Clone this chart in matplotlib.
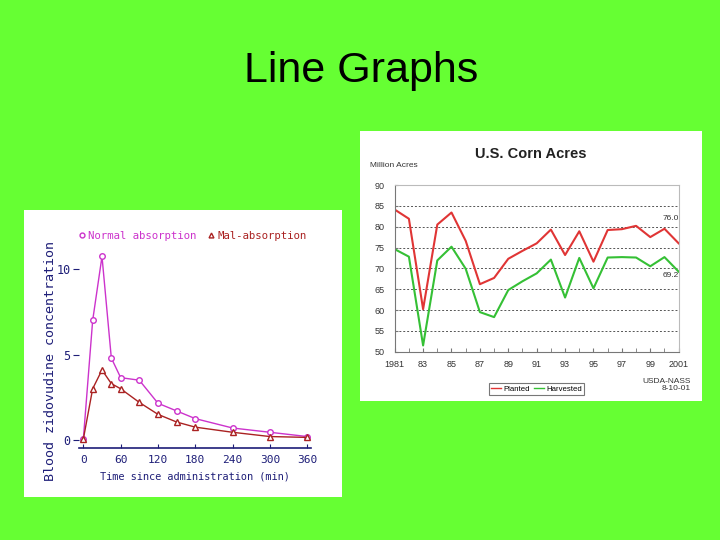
import numpy as np
import matplotlib
matplotlib.use('Agg')
import matplotlib.pyplot as plt
from matplotlib.lines import Line2D
from matplotlib.patches import Rectangle

# left chart: zidovudine concentration
minutes = [0, 15, 30, 45, 60, 90, 120, 150, 180, 240, 300, 360]
normal = [0.05, 7.0, 10.75, 4.8, 3.65, 3.5, 2.15, 1.7, 1.25, 0.7, 0.45, 0.2]
mal = [0.05, 3.0, 4.1, 3.3, 3.0, 2.2, 1.5, 1.05, 0.75, 0.45, 0.2, 0.15]

# right chart: U.S. corn acres
years = list(range(1981, 2002))
planted = [84.1, 81.9, 60.2, 80.5, 83.4, 76.6, 66.2, 67.7, 72.3, 74.2, 76.0,
           79.3, 73.2, 78.9, 71.6, 79.2, 79.4, 80.2, 77.5, 79.5, 76.0]
harvested = [74.6, 72.8, 51.5, 71.9, 75.2, 69.9, 59.5, 58.3, 64.8, 66.9, 68.8,
             72.1, 63.0, 72.5, 65.2, 72.6, 72.7, 72.6, 70.5, 72.7, 69.2]
year_labels = ['1981', '83', '85', '87', '89', '91', '93', '95', '97', '99', '2001']

fig = plt.figure(figsize=(7.2, 5.4), dpi=100)
fig.patch.set_facecolor('#66FF33')

fig.text(0.501, 0.848, 'Line Graphs', fontsize=31, family='Liberation Sans',
         ha='center', va='baseline', color='black')

# white backing panels
fig.add_artist(Rectangle((0.0333, 0.0796), 0.4417, 0.5315, transform=fig.transFigure,
                         facecolor='white', edgecolor='none', zorder=0))
fig.add_artist(Rectangle((0.5, 0.2574), 0.475, 0.5, transform=fig.transFigure,
                         facecolor='white', edgecolor='none', zorder=0))

# ---- left chart ----
navy = '#1E1E78'
mag = '#CC33CC'
dred = '#AA2222'
mono = 'DejaVu Sans Mono'

ax1 = fig.add_axes([0.1097, 0.1704, 0.3222, 0.3759])
ax1.set_facecolor('white')
ax1.plot(minutes, normal, color=mag, lw=1, marker='o', ms=4, mfc='white', mec=mag)
ax1.plot(minutes, mal, color=dred, lw=1, marker='^', ms=4, mfc='white', mec=dred)
ax1.set_xlim(-7, 366)
ax1.set_ylim(-0.47, 11.42)
ax1.set_xticks([0, 60, 120, 180, 240, 300, 360])
ax1.set_yticks([0, 5, 10])
for s in ['top', 'right', 'left']:
    ax1.spines[s].set_visible(False)
ax1.spines['bottom'].set_color(navy)
ax1.spines['bottom'].set_linewidth(1.2)
ax1.tick_params(axis='x', direction='in', length=3, color=navy, labelcolor=navy,
                labelsize=8, pad=5)
ax1.tick_params(axis='y', direction='out', length=4, color=navy, labelcolor=navy,
                labelsize=8.5, pad=2)
for lab in ax1.get_xticklabels() + ax1.get_yticklabels():
    lab.set_family(mono)
ax1.set_xlabel('Time since administration (min)', family=mono, fontsize=7.4,
               color=navy, labelpad=5)
fig.text(0.0705, 0.331, 'Blood zidovudine concentration', family=mono, fontsize=9.6,
         color=navy, rotation=90, ha='center', va='center')

h1 = Line2D([], [], ls='none', marker='o', ms=3.5, mfc='white', mec=mag)
h2 = Line2D([], [], ls='none', marker='^', ms=3.5, mfc='white', mec=dred)
leg1 = ax1.legend([h1, h2], ['Normal absorption', 'Mal-absorption'], ncol=2,
                  loc='center', bbox_to_anchor=(0.49, 1.045), frameon=False,
                  prop={'family': mono, 'size': 7.7}, handlelength=0.6,
                  handletextpad=0.3, columnspacing=1.0, labelcolor=[mag, dred])

# ---- right chart ----
red = '#E03535'
green = '#35C035'
arial = 'Liberation Sans'

ax2 = fig.add_axes([0.5482, 0.3487, 0.3944, 0.3087])
ax2.set_facecolor('white')
ax2.plot(years, planted, color=red, lw=1.5)
ax2.plot(years, harvested, color=green, lw=1.5)
ax2.set_xlim(1981, 2001)
ax2.set_ylim(50, 90)
ax2.set_yticks(np.arange(50, 91, 5))
ax2.set_xticks(years[::2])
ax2.set_xticklabels(year_labels)
ax2.set_xticks(years, minor=True)
for y in range(55, 90, 5):
    ax2.axhline(y, color='#555555', lw=0.7, ls=(0, (2, 2)), zorder=0)
for s in ['top', 'right']:
    ax2.spines[s].set_color('#BBBBBB')
for s in ['left', 'bottom']:
    ax2.spines[s].set_color('#777777')
ax2.tick_params(axis='y', direction='in', length=2, labelsize=6.5, labelcolor='#333333',
                color='#777777', pad=7)
ax2.tick_params(axis='x', which='both', direction='in', length=3, labelsize=6.5,
                labelcolor='#333333', color='#777777', pad=6)
for lab in ax2.get_xticklabels() + ax2.get_yticklabels():
    lab.set_family(arial)

ax2.text(2001, 82.0, '76.0', fontsize=6, family=arial, ha='right', va='center',
         color='#333333')
ax2.text(2001, 68.2, '69.2', fontsize=6, family=arial, ha='right', va='center',
         color='#333333')

fig.text(0.7375, 0.715, 'U.S. Corn Acres', fontsize=10.5, fontweight='bold',
         family=arial, ha='center', va='center', color='#222222')
fig.text(0.514, 0.693, 'Million Acres', fontsize=6, family=arial, ha='left',
         va='center', color='#333333')
fig.text(0.96, 0.287, 'USDA-NASS\n8-10-01', fontsize=6, family=arial, ha='right',
         va='center', color='#333333', linespacing=1.0)

hp = Line2D([], [], color=red, lw=1)
hh = Line2D([], [], color=green, lw=1)
leg2 = fig.legend([hp, hh], ['Planted', 'Harvested'], ncol=2, loc='center',
                  bbox_to_anchor=(0.745, 0.2796), frameon=True, fancybox=False,
                  prop={'family': arial, 'size': 5.6}, handlelength=1.3,
                  handletextpad=0.3, columnspacing=0.5, borderpad=0.25)
leg2.get_frame().set_edgecolor('#555555')
leg2.get_frame().set_linewidth(0.8)

fig.savefig('out.png', dpi=100, facecolor=fig.get_facecolor())
